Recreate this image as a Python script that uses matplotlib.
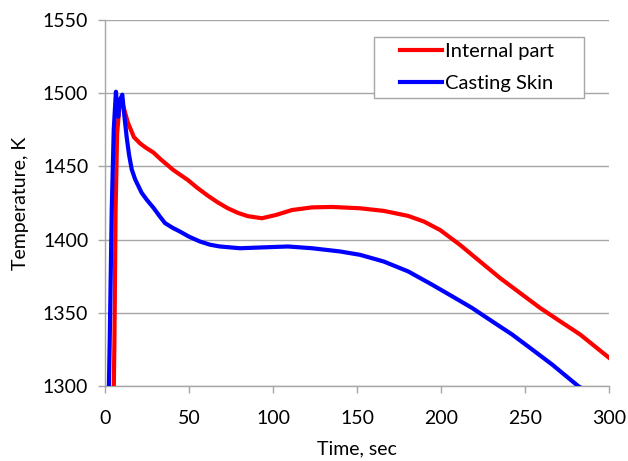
import matplotlib
matplotlib.use("Agg")
import matplotlib.pyplot as plt
from matplotlib.patches import Rectangle

plt.rcParams['font.family'] = ['Lato', 'DejaVu Sans']

# Internal part
t_internal = [5.0, 5.6, 6.3, 7.2, 8.5, 9.9, 11.9, 13.6, 17.2, 20.8, 24.0, 28.8, 33.0, 40.7,
              49.3, 55.0, 61.2, 67.0, 73.1, 79.0, 85.0, 93.4, 101.7, 111.3, 123.2, 135.0, 151.8, 166.0,
              180.4, 189.9, 199.4, 211.3, 223.3, 235.2, 247.1, 259.0, 270.9, 282.8, 300.0]
T_internal = [1280, 1330, 1420, 1472, 1490, 1495, 1487, 1480, 1470, 1465.8, 1463, 1459.5, 1455, 1447.5,
              1440.7, 1435.3, 1430.0, 1425.5, 1421.4, 1418.3, 1416.0, 1414.6, 1416.8, 1420.2, 1422.0, 1422.3,
              1421.4, 1419.6, 1416.2, 1412.3, 1406.6, 1396.4, 1385.0, 1373.7, 1363.5, 1353.3, 1344.2, 1335.2,
              1319.3]

# Casting skin
t_skin = [2.0, 2.8, 4.0, 5.2, 6.5, 7.3, 7.9, 8.8, 10.3, 11.2, 12.9, 14.3, 15.9, 18.0, 21.8,
          25.0, 29.0, 32.5, 35.7, 40.0, 44.6, 50.0, 56.5, 62.5, 68.4, 80.3, 92.2, 108.9, 123.2, 139.9,
          151.8, 166.0, 180.4, 194.7, 206.6, 218.5, 230.4, 242.3, 254.2, 266.1, 281.6, 290.0]
T_skin = [1280, 1330, 1420, 1475, 1501, 1490, 1484, 1495, 1499, 1488, 1470, 1458, 1448, 1441, 1432,
          1427, 1421.5, 1416, 1411.3, 1408.2, 1405.5, 1402, 1398.7, 1396.5, 1395.3, 1394.1, 1394.6,
          1395.3, 1394.1, 1391.9, 1389.6, 1385.0, 1378.3, 1369.2, 1361.3, 1353.3, 1344.2, 1335.2,
          1325.0, 1314.7, 1300.0, 1294.0]

x_ticks = [0, 50, 100, 150, 200, 250, 300]
y_ticks = [1300, 1350, 1400, 1450, 1500, 1550]

W, H = 628, 461
fig = plt.figure(figsize=(W / 100, H / 100), dpi=100)
ax = fig.add_axes([105 / W, 1 - 386 / H, 504 / W, 366 / H])

ax.plot(t_internal, T_internal, color='#ff0000', lw=3.0, label='Internal part', zorder=3)
ax.plot(t_skin, T_skin, color='#0000ff', lw=3.0, label='Casting Skin', zorder=3)

ax.set_xlim(0, 300)
ax.set_ylim(1300, 1550)
ax.set_xticks(x_ticks)
ax.set_yticks(y_ticks)
ax.yaxis.grid(True, color='#a6a6a6', lw=1.0)
ax.set_axisbelow(True)
for s in ['top', 'right']:
    ax.spines[s].set_visible(False)
for s in ['left', 'bottom']:
    ax.spines[s].set_color('#a6a6a6')
    ax.spines[s].set_linewidth(1.0)
ax.tick_params(axis='both', colors='#a6a6a6', labelcolor='black', labelsize=14,
               length=5, width=1.0, direction='out')
ax.tick_params(axis='x', pad=12)
ax.tick_params(axis='y', pad=7)

ax.set_xlabel('Time, sec', fontsize=14, labelpad=10)
ax.set_ylabel('Temperature, K', fontsize=14, labelpad=10)

# legend frame drawn as a rectangle in figure pixels (inside the axes, below the legend)
box = Rectangle((374 / W, 1 - 97.7 / H), 210 / W, 61 / H, transform=fig.transFigure,
                facecolor='white', edgecolor='#a6a6a6', lw=1.0, zorder=4, clip_on=False)
ax.add_patch(box)

leg = ax.legend(loc='upper left', bbox_to_anchor=(400 / W, 1 - 42.5 / H), bbox_transform=fig.transFigure,
                fontsize=14.5, frameon=False, borderpad=0.0,
                handlelength=2.1, handletextpad=0.15, labelspacing=0.75, borderaxespad=0)
leg.set_zorder(5)
for line in leg.get_lines():
    line.set_linewidth(3.0)

fig.savefig('out.png', dpi=100)
